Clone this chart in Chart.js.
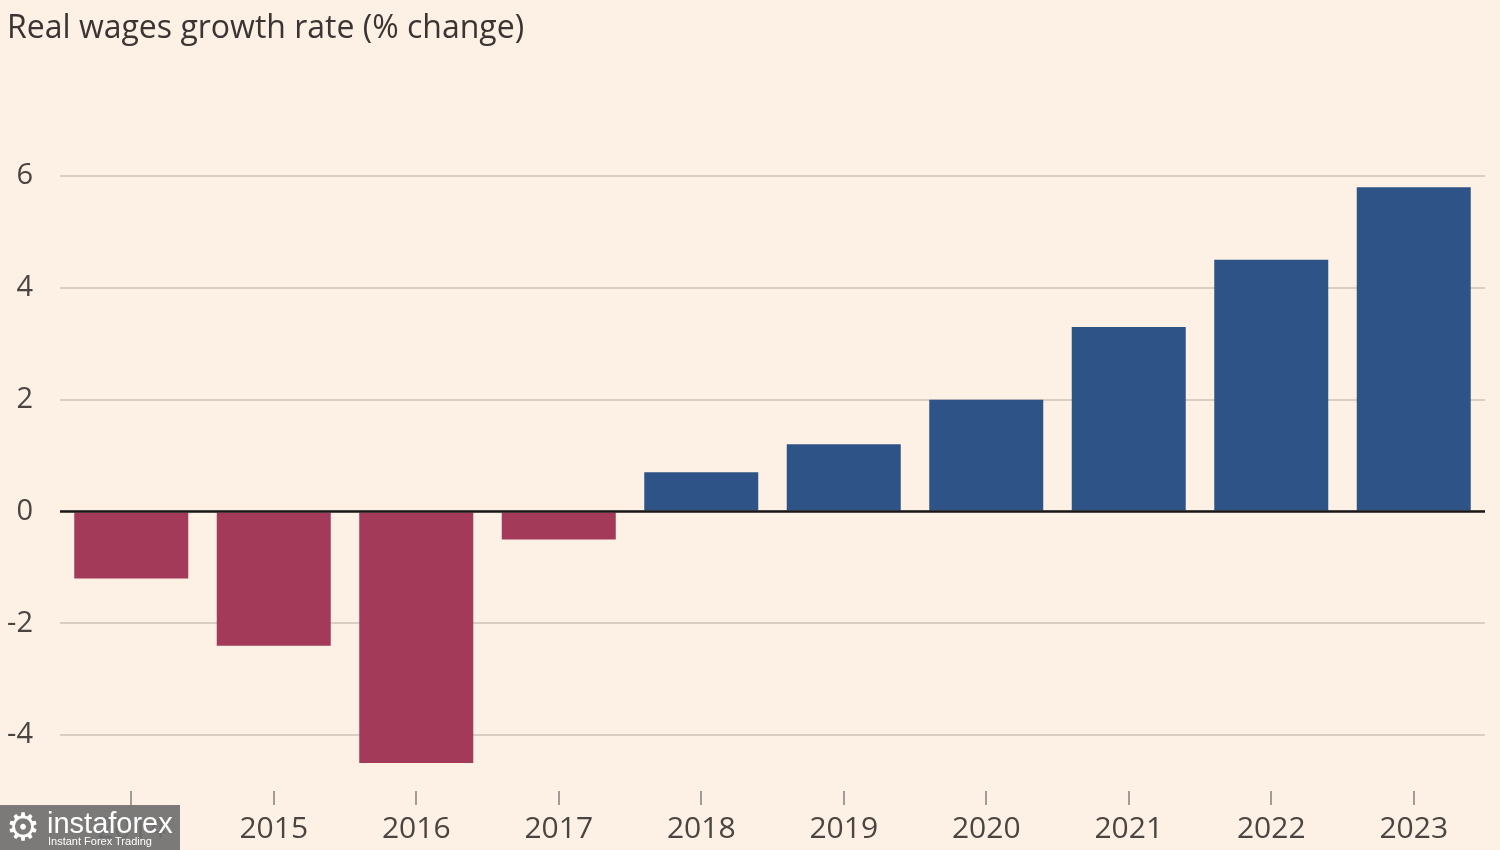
<!DOCTYPE html>
<html>
<head>
<meta charset="utf-8">
<script src="https://cdn.jsdelivr.net/npm/chart.js@4.4.1/dist/chart.umd.min.js"></script>
<style>
  html, body { margin: 0; padding: 0; background: #fdf0e5; }
  #wrap { position: relative; width: 1500px; height: 850px; overflow: hidden; }
  #title {
    position: absolute; left: 7px; top: 4px;
    font-family: "Open Sans", sans-serif; font-size: 32px; color: #3a3532;
    white-space: nowrap;
  }
  #mark {
    position: absolute; left: 0; top: 805px; width: 180px; height: 45px;
    background: rgba(112, 112, 112, 0.92); color: #fff;
    font-family: "Liberation Sans", sans-serif;
  }
  #mark .gear { position: absolute; left: 6px; top: 0px; font-family: "DejaVu Sans"; font-size: 38px; line-height: 45px; }
  #mark .name { position: absolute; left: 47px; top: 0px; font-size: 29px; line-height: 36px; }
  #mark .sub { position: absolute; left: 48px; top: 30px; font-size: 11px; }
</style>
</head>
<body>
<div id="wrap">
  <canvas id="barChart" width="1500" height="850"></canvas>
  <div id="title">Real wages growth rate (% change)</div>
  <div id="mark"><span class="gear">&#9881;</span><span class="name">instaforex</span><span class="sub">Instant Forex Trading</span></div>
</div>
<script>
// Chart data
var years = ["2014", "2015", "2016", "2017", "2018", "2019", "2020", "2021", "2022", "2023"];
var wageGrowth = [-1.2, -2.4, -4.5, -0.5, 0.7, 1.2, 2.0, 3.3, 4.5, 5.8];
var yTicks = [-4, -2, 0, 2, 4, 6];

var barColors = wageGrowth.map(function(v) { return v < 0 ? "#a33a5a" : "#2e5386"; });

// draws the zero line on top of the bars
var zeroLine = {
    id: "zeroLine",
    afterDatasetsDraw: function(chart) {
        var y = chart.scales.y.getPixelForValue(0);
        var ctx = chart.ctx;
        ctx.save();
        ctx.strokeStyle = "#1a1817";
        ctx.lineWidth = 2.5;
        ctx.beginPath();
        ctx.moveTo(chart.chartArea.left, y);
        ctx.lineTo(chart.chartArea.right, y);
        ctx.stroke();
        ctx.restore();
    }
};

var ctx = document.getElementById("barChart").getContext("2d");
var barChart = new Chart(ctx, {
    type: "bar",
    data: {
        labels: years,
        datasets: [{
            data: wageGrowth,
            backgroundColor: barColors,
            barPercentage: 0.8,
            categoryPercentage: 1.0
        }]
    },
    plugins: [zeroLine],
    options: {
        responsive: false,
        animation: false,
        layout: { padding: { top: 176, right: 15, bottom: -3, left: 0 } },
        plugins: {
            legend: { display: false },
            tooltip: { enabled: false }
        },
        scales: {
            x: {
                border: { display: false },
                grid: {
                    offset: false,
                    drawOnChartArea: false,
                    drawTicks: true,
                    tickLength: 14,
                    color: "#a39c96",
                    lineWidth: 2
                },
                ticks: {
                    padding: 9,
                    color: "#4a4541",
                    font: { family: "Open Sans", size: 30, lineHeight: 1 }
                }
            },
            y: {
                min: -5,
                max: 6,
                afterBuildTicks: function(scale) {
                    scale.ticks = yTicks.map(function(v) { return { value: v }; });
                },
                afterFit: function(scale) { scale.width = 60; },
                border: { display: false },
                grid: {
                    drawTicks: false,
                    color: "#d9cec3",
                    lineWidth: 2
                },
                ticks: {
                    padding: 27,
                    color: "#4a4541",
                    font: { family: "Open Sans", size: 29 }
                }
            }
        }
    }
});
</script>
</body>
</html>
